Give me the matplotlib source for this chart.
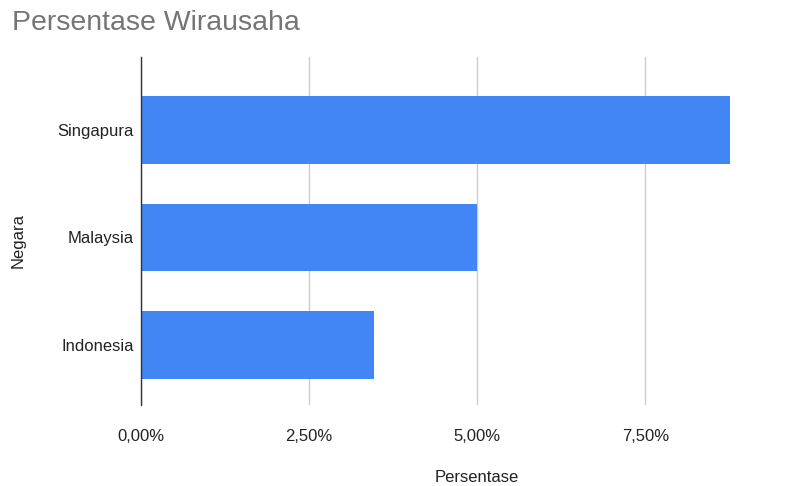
import matplotlib
matplotlib.use("Agg")
import matplotlib.pyplot as plt
from matplotlib.ticker import FuncFormatter

plt.rcParams['font.family'] = ['Liberation Sans', 'DejaVu Sans']

countries = ["Indonesia", "Malaysia", "Singapura"]
values = [3.46, 5.00, 8.75]
xticks = [0, 2.5, 5.0, 7.5]

fig = plt.figure(figsize=(8.04, 4.86), dpi=100)
ax = fig.add_axes([141/804, 1-405/486, (780-141)/804, (405-57)/486])

ypos = list(range(len(countries)))
ax.barh(ypos, values, height=0.63, color="#4285F4", zorder=3)
ax.set_yticks(ypos)
ax.set_yticklabels(countries, fontsize=12, color="#222222")
ax.set_xlim(0, 9.5)
ax.set_ylim(-0.556, 2.676)
ax.set_xticks(xticks)
ax.xaxis.set_major_formatter(FuncFormatter(lambda v, p: f"{v:.2f}%".replace(".", ",")))
ax.tick_params(axis='x', labelsize=12, colors="#222222", length=0, pad=17)
ax.tick_params(axis='y', length=0, pad=5)
ax.grid(axis='x', color="#cccccc", linewidth=1, zorder=0)
for s in ["top", "right", "bottom"]:
    ax.spines[s].set_visible(False)
ax.spines["left"].set_color("#333333")
ax.spines["left"].set_linewidth(1)
ax.spines["left"].set_zorder(4)

fig.text(477/804, 1-477/486, "Persentase", fontsize=12, color="#222222", ha="center", va="center")
fig.text(18/804, 1-240/486, "Negara", fontsize=12, color="#222222", ha="center", va="center", rotation=90)

fig.text(12/804, 1-23/486, "Persentase Wirausaha", fontsize=20.5, color="#757575", va="center", ha="left")

fig.savefig("out.png", dpi=100)
